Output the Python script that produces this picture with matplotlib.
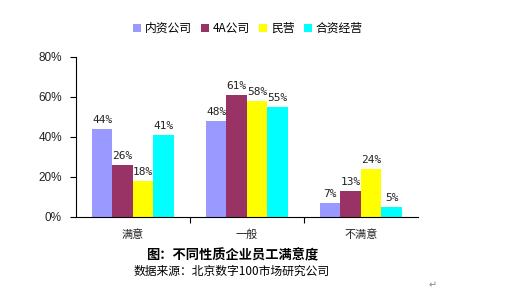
import matplotlib
matplotlib.use("Agg")
import matplotlib.pyplot as plt
import numpy as np
from matplotlib.patches import Patch

plt.rcParams['font.family'] = ['Noto Sans CJK SC', 'DejaVu Sans']

categories = ["满意", "一般", "不满意"]
series_names = ["内资公司", "4A公司", "民营", "合资经营"]
values = {
    "内资公司": [44, 48, 7],
    "4A公司": [26, 61, 13],
    "民营": [18, 58, 24],
    "合资经营": [41, 55, 5],
}
colors = ["#9999FF", "#993366", "#FFFF00", "#00FFFF"]
yticks = [0, 20, 40, 60, 80]
ytick_labels = ["0%", "20%", "40%", "60%", "80%"]

fig = plt.figure(figsize=(5.27, 2.98), dpi=100)
ax = fig.add_axes([0.144, 0.272, 0.649, 0.537])

x = np.arange(len(categories))
w = 0.18
for i, name in enumerate(series_names):
    pos = x + (i - 1.5) * w
    ax.bar(pos, values[name], width=w, color=colors[i], edgecolor='none')
    for xi, v in zip(pos, values[name]):
        ax.text(xi, v + 2, f"{v}%", ha='center', va='bottom', fontsize=8,
                family=['DejaVu Sans Mono'], color='#222222')

ax.set_xlim(-0.5, 2.5)
ax.set_ylim(0, 80)
ax.set_yticks(yticks)
ax.set_yticklabels(ytick_labels, fontsize=8.5, family=['Liberation Sans'], color='#222222')
ax.set_xticks([0.5, 1.5])
ax.set_xticklabels(["", ""])
ax.tick_params(axis='x', length=4, direction='out')
ax.tick_params(axis='y', length=4, direction='out', pad=6)
for i, c in enumerate(categories):
    ax.text(i, -6, c, ha='center', va='top', fontsize=8, color='#222222')
ax.spines['top'].set_visible(False)
ax.spines['right'].set_visible(False)
ax.spines['left'].set_linewidth(0.8)
ax.spines['bottom'].set_linewidth(0.8)

handles = [Patch(facecolor=c, edgecolor='none') for c in colors]
fig.legend(handles, series_names, loc='center', bbox_to_anchor=(0.47, 0.905), ncol=4,
           frameon=False, fontsize=8.5, handlelength=0.7, handleheight=0.7,
           handletextpad=0.3, columnspacing=0.8)

fig.text(0.441, 1 - 255 / 298, "图：不同性质企业员工满意度", ha='center', va='center',
         fontsize=9.5, fontweight='bold')
fig.text(0.44, 1 - 271 / 298, "数据来源：北京数字100市场研究公司", ha='center', va='center',
         fontsize=8.5)
fig.text(0.82, 1 - 285 / 298, "↵", ha='center', va='center', fontsize=7,
         color='#888888', family=['DejaVu Sans'])

fig.savefig("out.png", dpi=100)
